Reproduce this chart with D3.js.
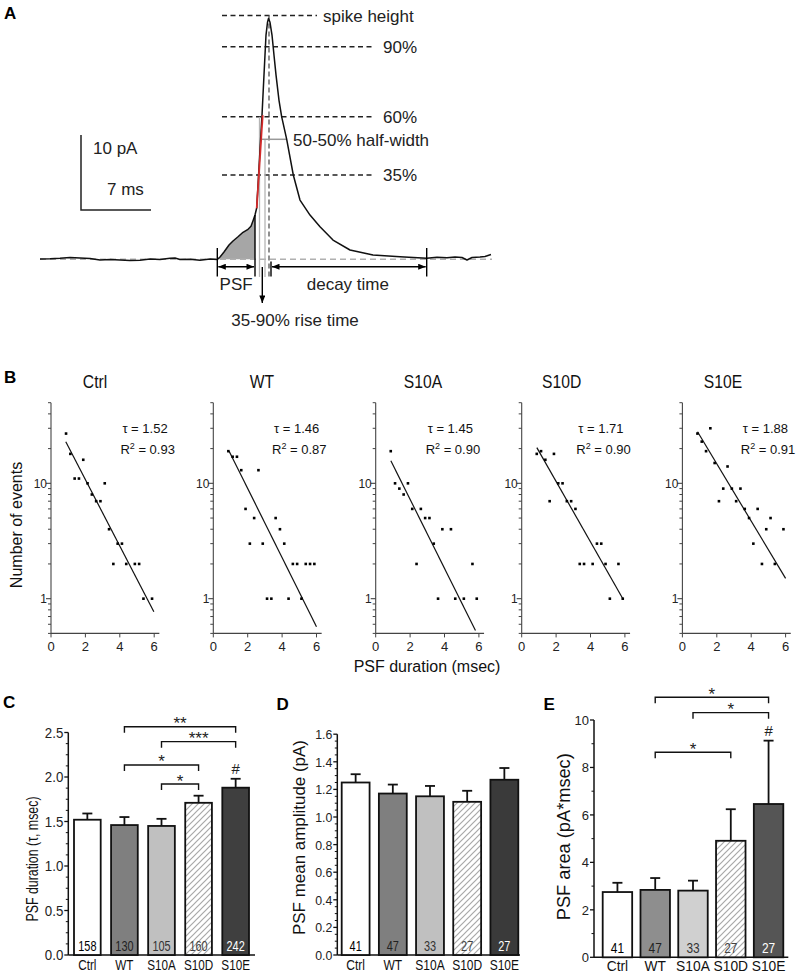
<!DOCTYPE html>
<html><head><meta charset="utf-8">
<script src="https://cdn.jsdelivr.net/npm/d3@7"></script>
<style>body{margin:0;background:#fff}</style>
</head><body>
<svg id="fig" width="797" height="977"></svg>
<script>
// ================= DATA =================
// Panel A: schematic PSF trace (time in ms, current in pA)
const traceTime = [0,1,2,3,4,5,6,7,8,9,10,11,12,13,13.5,14,15,16,17,17.73,
  18.0,18.4,18.9,19.3,19.8,20.3,20.8,21.1,21.33,21.5,
  21.67,21.8,22.0,22.2,22.4,22.6,22.75,22.85,
  23.0,23.2,23.4,23.6,23.9,24.17,24.67,25.33,26.0,27.0,28.0,29.3,31.0,33.3,36.0,38.67,
  39.7,40.7,41.5,42.2,42.7,43.2,44.0,44.5,45.1];
const traceCurrent = [0.04,0.07,0.13,0.24,0.17,0.11,-0.09,-0.03,-0.09,-0.16,-0.12,0.04,-0.03,0.13,0.17,-0.03,0.01,-0.12,0.04,-0.03,
  0.3,0.97,1.9,2.44,3.0,3.6,4.0,4.4,5.24,5.9,
  6.84,9.9,14.6,19.2,24.6,29.9,31.6,32.1,
  31.6,29.9,27.2,24.6,21.2,19.0,16.0,11.24,7.9,5.9,4.35,2.57,1.24,0.57,0.35,0.13,
  0.28,0.2,0.31,0.24,-0.09,0.24,0.31,0.37,0.64];
const levelLabels = ["spike height","90%","60%","35%"];
const levelCurrents = [32.5,28.35,19.0,11.24];
const halfWidthCurrent = 16.0;
const psfStart = 17.73, psfEnd = 21.5, decayStart = 23.1, decayEnd = 38.67, peakTime = 22.9;
const riseFitTime = [21.67,22.27], riseFitCurrent = [6.8,19.2];
const scaleBarCurrent = 10, scaleBarTime = 7;

// Panel B: histograms of PSF duration (log counts)
const bGroups = ["Ctrl","WT","S10A","S10D","S10E"];
const bTau = ["1.52","1.46","1.45","1.71","1.88"];
const bR2 = ["0.93","0.87","0.90","0.90","0.91"];
const ctrlDur = [0.875,1.125,1.375,1.625,1.875,2.125,2.375,2.625,2.875,3.125,3.375,3.625,3.875,4.125,4.375,4.875,5.125,5.375,5.875];
const ctrlCount = [27,18,11,11,16,10,8,7,7,10,4,2,3,3,2,2,2,1,1];
const wtDur = [0.875,1.125,1.375,1.625,1.875,2.125,2.375,2.625,2.875,3.125,3.375,3.625,3.875,4.125,4.375,4.625,4.875,5.125,5.375,5.625,5.875];
const wtCount = [19,17,17,13,6,3,5,13,3,1,1,5,4,3,1,2,2,1,2,2,2];
const s10aDur = [0.875,1.125,1.375,1.625,1.875,2.125,2.375,2.625,2.875,3.125,3.375,3.625,3.875,4.375,4.625,5.125,5.625,5.875];
const s10aCount = [19,10,9,8,10,6,2,6,5,5,3,1,4,4,1,1,2,1];
const s10dDur = [0.875,1.125,1.375,1.625,1.875,2.125,2.375,2.625,2.875,3.125,3.375,3.625,4.125,4.375,4.625,4.875,5.125,5.625,5.875];
const s10dCount = [18,19,16,7,18,10,10,7,7,6,2,2,2,3,3,2,1,2,1];
const s10eDur = [0.875,1.125,1.375,1.625,1.875,2.125,2.375,2.625,2.875,3.125,3.375,3.625,3.875,4.125,4.375,4.625,4.875,5.125,5.375,5.875];
const s10eCount = [27,23,19,30,15,7,9,14,9,7,9,6,5,3,6,2,4,5,2,4];
const fitStartDur = [0.86,0.92,0.88,0.88,0.88];
const fitStartN = [22.9,19,15.7,20.4,28];
const fitEndDur = [5.98,6.0,5.8,5.88,6.0];
const fitEndN = [0.77,0.57,0.53,1.0,1.5];
const bXTicks = [0,2,4,6];
const bYTicks = [1,10];

// Panels C-E: bar charts
const barGroups = ["Ctrl","WT","S10A","S10D","S10E"];
const cMean = [1.52,1.46,1.45,1.71,1.88];
const cSem  = [0.07,0.09,0.08,0.08,0.10];
const cN    = [158,130,105,160,242];
const cBrFrom = ["WT","S10A","WT","S10A"], cBrTo = ["S10E","S10E","S10D","S10D"];
const cBrLabel = ["**","***","*","*"], cBrLevel = [2.565,2.397,2.135,1.921];
const dMean = [1.25,1.17,1.15,1.11,1.27];
const dSem  = [0.06,0.065,0.075,0.08,0.085];
const dN    = [41,47,33,27,27];
const eMean = [2.75,2.84,2.81,4.91,6.46];
const eSem  = [0.39,0.50,0.42,1.33,2.67];
const eN    = [41,47,33,27,27];
const eBrFrom = ["WT","S10A","WT"], eBrTo = ["S10E","S10E","S10D"];
const eBrLabel = ["*","*","*"], eBrLevel = [10.96,10.31,8.64];

// ================= DRAWING =================
const FONT = '"Liberation Sans", Arial, Helvetica, sans-serif';
const svg = d3.select('#fig');
svg.append('rect').attr('width',797).attr('height',977).attr('fill','#fff');
const defs = svg.append('defs');
defs.append('marker').attr('id','arr').attr('viewBox','0 0 10 8').attr('refX',10).attr('refY',4)
  .attr('markerWidth',8).attr('markerHeight',6).attr('markerUnits','userSpaceOnUse')
  .attr('orient','auto-start-reverse')
  .append('path').attr('d','M0,0 L10,4 L0,8 Z').attr('fill','#000');
const hatch = defs.append('pattern').attr('id','hatch').attr('patternUnits','userSpaceOnUse')
  .attr('width',6).attr('height',6);
hatch.append('rect').attr('width',6).attr('height',6).attr('fill','#fff');
hatch.append('path').attr('d','M0,6 L6,0 M-1,1 L1,-1 M5,7 L7,5').attr('stroke','#a8a8a8').attr('stroke-width',1.2);

function T(g,x,y,s,o={}){
  const t = g.append('text')
    .attr('transform',`translate(${x},${y})${o.rot?` rotate(${o.rot})`:''}${o.sx?` scale(${o.sx},1)`:''}`)
    .attr('font-family',FONT).attr('font-size',o.size||13)
    .attr('text-anchor',o.anchor||'start').attr('fill',o.fill||'#000');
  if(o.bold) t.attr('font-weight','bold');
  if(o.len) t.attr('textLength',o.len).attr('lengthAdjust','spacingAndGlyphs');
  t.text(s);
  return t;
}

// ---------- Panel A ----------
(function(){
  const g = svg.append('g');
  const tx = d3.scaleLinear().domain([0,45.2]).range([40,492]);
  const iy = d3.scaleLinear().domain([0,10]).range([259.3,184.3]);
  T(g,4,18.5,'A',{size:17,bold:true});
  const pts = traceTime.map((t,i)=>[t,traceCurrent[i]]);
  const foot = pts.filter(p=>p[0]>=psfStart && p[0]<=psfEnd);
  g.append('path').datum(foot)
    .attr('d',d3.area().x(d=>tx(d[0])).y0(iy(0)).y1(d=>iy(d[1])))
    .attr('fill','#a6a6a6');
  g.append('line').attr('x1',tx(0)).attr('x2',tx(45.2)).attr('y1',iy(0)).attr('y2',iy(0))
    .attr('stroke','#b0b0b0').attr('stroke-width',1.5).attr('stroke-dasharray','6,4');
  levelCurrents.forEach((c,i)=>{
    const xEnd = i===0 ? 27.7 : 33.3;
    g.append('line').attr('x1',tx(18.2)).attr('x2',tx(xEnd)).attr('y1',iy(c)).attr('y2',iy(c))
      .attr('stroke','#222').attr('stroke-width',1.4).attr('stroke-dasharray','5,3.5');
    T(g, i===0 ? tx(28.3) : tx(34.3), iy(c)+6, levelLabels[i], {size:17, fill:'#222'});
  });
  g.append('line').attr('x1',tx(21.95)).attr('x2',tx(21.95)).attr('y1',iy(19.0)).attr('y2',iy(-2.35))
    .attr('stroke','#b5b5b5').attr('stroke-width',1.3);
  g.append('line').attr('x1',tx(22.5)).attr('x2',tx(22.5)).attr('y1',iy(halfWidthCurrent)).attr('y2',iy(-2.35))
    .attr('stroke','#b5b5b5').attr('stroke-width',1.3);
  g.append('line').attr('x1',tx(peakTime)).attr('x2',tx(peakTime)).attr('y1',iy(levelCurrents[0])).attr('y2',iy(-2.35))
    .attr('stroke','#555').attr('stroke-width',1.3).attr('stroke-dasharray','5,3');
  g.append('line').attr('x1',tx(22.2)).attr('x2',tx(24.7)).attr('y1',iy(halfWidthCurrent)).attr('y2',iy(halfWidthCurrent))
    .attr('stroke','#999').attr('stroke-width',1.5);
  T(g,tx(25.3),iy(halfWidthCurrent)+6.5,'50-50% half-width',{size:17,fill:'#222'});
  g.append('path').datum(pts).attr('d',d3.line().x(d=>tx(d[0])).y(d=>iy(d[1])))
    .attr('fill','none').attr('stroke','#111').attr('stroke-width',1.5).attr('stroke-linejoin','round');
  g.append('line').attr('x1',tx(riseFitTime[0])).attr('x2',tx(riseFitTime[1]))
    .attr('y1',iy(riseFitCurrent[0])).attr('y2',iy(riseFitCurrent[1]))
    .attr('stroke','#d42a2a').attr('stroke-width',1.8);
  [[psfStart,1.5],[psfEnd,5.9],[decayEnd,1.5],[decayStart,-0.3]].forEach(d=>{
    g.append('line').attr('x1',tx(d[0])).attr('x2',tx(d[0])).attr('y1',iy(d[1])).attr('y2',iy(-2.3))
      .attr('stroke','#000').attr('stroke-width',1.4);
  });
  [[psfStart,psfEnd],[decayStart,decayEnd]].forEach(d=>{
    g.append('line').attr('x1',tx(d[0])+1).attr('x2',tx(d[1])-1).attr('y1',iy(-0.99)).attr('y2',iy(-0.99))
      .attr('stroke','#000').attr('stroke-width',1.3)
      .attr('marker-start','url(#arr)').attr('marker-end','url(#arr)');
  });
  g.append('line').attr('x1',tx(22.23)).attr('x2',tx(22.23)).attr('y1',iy(-1.03)).attr('y2',iy(-5.84))
    .attr('stroke','#000').attr('stroke-width',1.4).attr('marker-end','url(#arr)');
  T(g,tx((psfStart+psfEnd)/2),iy(-4.1),'PSF',{size:17,anchor:'middle',fill:'#222'});
  T(g,tx((decayStart+decayEnd)/2)-1,iy(-4.1),'decay time',{size:17,anchor:'middle',fill:'#222'});
  T(g,295,326,'35-90% rise time',{size:17,anchor:'middle',fill:'#222'});
  const sbT = 4.1, sbI = 6.57;
  g.append('path').attr('d',`M${tx(sbT)},${iy(sbI+scaleBarCurrent)} V${iy(sbI)} H${tx(sbT+scaleBarTime)}`)
    .attr('fill','none').attr('stroke','#222').attr('stroke-width',1.5);
  T(g,tx(sbT)+12,iy(sbI+scaleBarCurrent)+19,'10 pA',{size:17,fill:'#222'});
  T(g,tx(sbT)+26,iy(sbI)-15,'7 ms',{size:17,fill:'#222'});
})();

// ---------- Panel B ----------
(function(){
  const g = svg.append('g');
  T(g,4,383,'B',{size:17,bold:true});
  const bAxisLeft = [51,213.3,375.7,521.7,682.4];
  const titleX = [95,262,423,561.7,723];
  const annotX = [4.15,3.53,3.02,3.29,3.51];
  const durs = [ctrlDur,wtDur,s10aDur,s10dDur,s10eDur];
  const counts = [ctrlCount,wtCount,s10aCount,s10dCount,s10eCount];
  const y = d3.scaleLog().domain([0.5,50]).range([633.4,402.7]);
  const minor = [];
  [0.1,1,10].forEach(dec=>{for(let k=2;k<=9;k++){const v=k*dec; if(v>=0.5&&v<=50) minor.push(v);}});
  bGroups.forEach((name,i)=>{
    const x = d3.scaleLinear().domain([0,6.3]).range([bAxisLeft[i], bAxisLeft[i]+6.3*17.2]);
    const gg = g.append('g');
    gg.append('line').attr('x1',x(0)).attr('x2',x(0)).attr('y1',y(0.5)).attr('y2',y(50)).attr('stroke','#444').attr('stroke-width',1.1);
    minor.forEach(v=>{ if(v===50) return;
      gg.append('line').attr('x1',x(0)-3).attr('x2',x(0)).attr('y1',y(v)).attr('y2',y(v)).attr('stroke','#444').attr('stroke-width',1);});
    gg.append('line').attr('x1',x(0)-3).attr('x2',x(0)).attr('y1',y(50)).attr('y2',y(50)).attr('stroke','#444').attr('stroke-width',1);
    bYTicks.forEach(v=>{
      gg.append('line').attr('x1',x(0)-5).attr('x2',x(0)).attr('y1',y(v)).attr('y2',y(v)).attr('stroke','#444').attr('stroke-width',1.1);
      T(gg,x(0)-4,y(v)+4.5,String(v),{size:13,anchor:'end',fill:'#222',sx:0.92});
    });
    gg.append('line').attr('x1',x(0)).attr('x2',x(6.3)).attr('y1',y(0.5)).attr('y2',y(0.5)).attr('stroke','#444').attr('stroke-width',1.1);
    bXTicks.forEach(v=>{
      gg.append('line').attr('x1',x(v)).attr('x2',x(v)).attr('y1',y(0.5)).attr('y2',y(0.5)+4).attr('stroke','#444').attr('stroke-width',1);
      T(gg,x(v),y(0.5)+18,String(v),{size:13,anchor:'middle',fill:'#222'});
    });
    gg.append('line').attr('x1',x(fitStartDur[i])).attr('y1',y(fitStartN[i]))
      .attr('x2',x(fitEndDur[i])).attr('y2',y(fitEndN[i])).attr('stroke','#111').attr('stroke-width',1.2);
    gg.selectAll('rect.pt').data(durs[i].map((d,k)=>[d,counts[i][k]])).enter().append('rect')
      .attr('x',d=>x(d[0])-1.3).attr('y',d=>y(d[1])-1.3).attr('width',2.6).attr('height',2.6).attr('fill','#000');
    T(gg,titleX[i],388,name,{size:18,anchor:'middle',sx:0.87,fill:'#111'});
    const ax = x(annotX[i]);
    const t1 = gg.append('text').attr('x',ax).attr('y',432.5).attr('font-family',FONT).attr('font-size',13).attr('fill','#111');
    t1.text('\u03c4 = '+bTau[i]);
    const t2 = gg.append('text').attr('x',ax-2).attr('y',453.5).attr('font-family',FONT).attr('font-size',13).attr('fill','#111');
    t2.append('tspan').text('R');
    t2.append('tspan').attr('dy',-5).attr('font-size',9).text('2');
    t2.append('tspan').attr('dy',5).text(' = '+bR2[i]);
  });
  T(g,22,525,'Number of events',{size:16,rot:-90,anchor:'middle',fill:'#111'});
  T(g,427,672,'PSF duration (msec)',{size:16,anchor:'middle',fill:'#111'});
})();

// ---------- Panels C, D, E ----------
function barPanel(o){
  const g = svg.append('g');
  T(g,o.letterX,o.letterY,o.letter,{size:17,bold:true});
  const y = d3.scaleLinear().domain([0,o.yMax]).range([o.y0,o.yTop]);
  const x = d3.scaleBand().domain(barGroups).range(o.band).paddingInner(o.padIn).paddingOuter(0);
  g.append('line').attr('x1',o.axisX).attr('x2',o.axisX).attr('y1',y(0)).attr('y2',y(o.yMax)).attr('stroke','#111').attr('stroke-width',1.5);
  g.append('line').attr('x1',o.axisX).attr('x2',o.xEnd).attr('y1',y(0)).attr('y2',y(0)).attr('stroke','#111').attr('stroke-width',1.5);
  const nMinor = Math.round(o.yMax/o.minor);
  for(let k=0;k<=nMinor;k++){
    const v = k*o.minor;
    const isMajor = Math.abs(v/o.major - Math.round(v/o.major))<1e-6;
    g.append('line').attr('x1',o.axisX-(isMajor?4:2.5)).attr('x2',o.axisX).attr('y1',y(v)).attr('y2',y(v))
      .attr('stroke','#111').attr('stroke-width',isMajor?1.3:1);
    if(isMajor) T(g,o.axisX-5,y(v)+5,d3.format(o.fmt)(v),{size:o.tickSize,anchor:'end',fill:'#222',sx:o.tickSx});
  }
  barGroups.forEach((grp,i)=>{
    const bx = x(grp), bw = x.bandwidth(), cx = bx+bw/2;
    g.append('rect').attr('x',bx).attr('y',y(o.mean[i])).attr('width',bw).attr('height',y(0)-y(o.mean[i]))
      .attr('fill',o.fills[i]).attr('stroke','#111').attr('stroke-width',1.8);
    g.append('line').attr('x1',cx).attr('x2',cx).attr('y1',y(o.mean[i])).attr('y2',y(o.mean[i]+o.sem[i])).attr('stroke','#111').attr('stroke-width',1.8);
    g.append('line').attr('x1',cx-5).attr('x2',cx+5).attr('y1',y(o.mean[i]+o.sem[i])).attr('y2',y(o.mean[i]+o.sem[i])).attr('stroke','#111').attr('stroke-width',1.8);
    T(g,cx,y(0)-4,String(o.n[i]),{size:14,anchor:'middle',fill:o.nFill[i],sx:o.nSx});
    T(g,cx,o.catY,grp,{size:15,anchor:'middle',fill:'#111',sx:o.catSx});
  });
  o.brFrom.forEach((a,k)=>{
    const x1 = x(a)+x.bandwidth()/2, x2 = x(o.brTo[k])+x.bandwidth()/2, yy = y(o.brLevel[k]);
    g.append('path').attr('d',`M${x1},${yy+6} V${yy} H${x2} V${yy+6}`).attr('fill','none').attr('stroke','#111').attr('stroke-width',1.4);
    T(g,(x1+x2)/2,yy+2.5,o.brLabel[k],{size:17,anchor:'middle',fill:'#222'});
  });
  if(o.hash){
    const hx = x('S10E')+x.bandwidth()/2;
    T(g,hx,y(o.mean[4]+o.sem[4])-5,'#',{size:15,anchor:'middle',fill:'#222'});
  }
  T(g,o.labX,o.labY,o.ylabel,{size:o.labSize,rot:-90,anchor:'middle',fill:'#111',len:o.labLen});
}
const nFill = ['#000','#222','#333','#444','#fff'];
barPanel({letter:'C',letterX:3,letterY:708,y0:955,yTop:732.5,yMax:2.5,axisX:68.3,xEnd:255,band:[74,249],padIn:0.28,
  mean:cMean,sem:cSem,n:cN,major:0.5,minor:0.125,fmt:'.1f',tickSize:14,tickSx:0.95,
  fills:['#fff','#7f7f7f','#c0c0c0','url(#hatch)','#3f3f3f'],nFill:nFill,nSx:0.78,catY:970,catSx:0.78,
  brFrom:cBrFrom,brTo:cBrTo,brLabel:cBrLabel,brLevel:cBrLevel,hash:true,
  ylabel:'PSF duration (\u03c4, msec)',labX:37.5,labY:859,labSize:17,labLen:125});
barPanel({letter:'D',letterX:276.5,letterY:710,y0:955,yTop:734.2,yMax:1.6,axisX:337.3,xEnd:520,band:[341.7,518.3],padIn:0.25,
  mean:dMean,sem:dSem,n:dN,major:0.2,minor:0.05,fmt:'.1f',tickSize:13,tickSx:0.95,
  fills:['#fff','#7f7f7f','#c0c0c0','url(#hatch)','#3a3a3a'],nFill:nFill,nSx:0.78,catY:970,catSx:0.8,
  brFrom:[],brTo:[],brLabel:[],brLevel:[],hash:false,
  ylabel:'PSF mean amplitude (pA)',labX:305,labY:837.5,labSize:17,labLen:195});
barPanel({letter:'E',letterX:543.5,letterY:710,y0:957.3,yTop:720,yMax:10,axisX:594,xEnd:788.3,band:[602.7,783.3],padIn:0.22,
  mean:eMean,sem:eSem,n:eN,major:2,minor:1,fmt:'d',tickSize:13,tickSx:1,
  fills:['#fff','#8e8e8e','#d0d0d0','url(#hatch)','#555'],nFill:nFill,nSx:0.85,catY:971,catSx:0.92,
  brFrom:eBrFrom,brTo:eBrTo,brLabel:eBrLabel,brLevel:eBrLevel,hash:true,
  ylabel:'PSF area (pA*msec)',labX:569.6,labY:836.7,labSize:18,labLen:167});
</script>
</body></html>
